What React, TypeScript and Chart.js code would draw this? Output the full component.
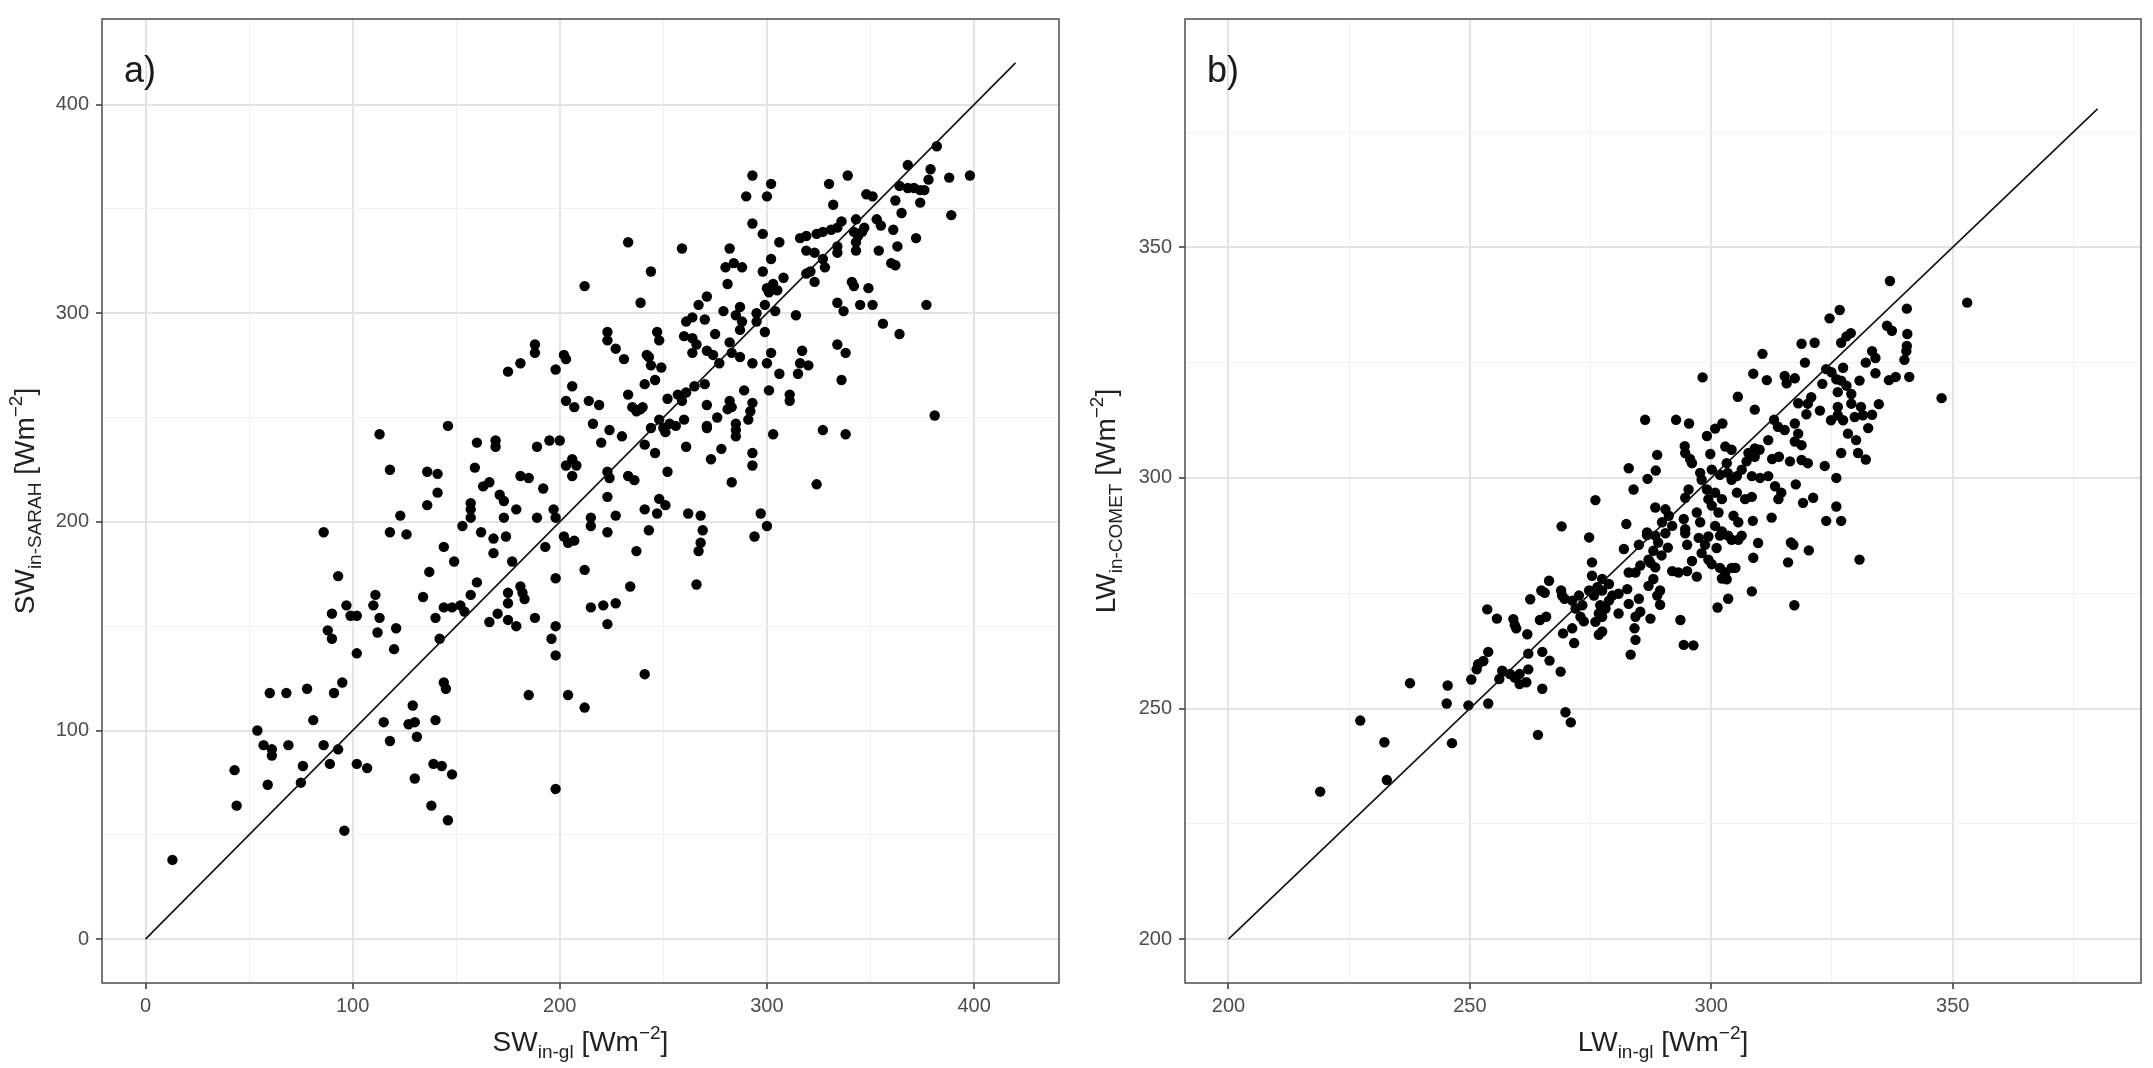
import React, { useEffect, useRef } from 'react';
import { Chart, registerables } from 'chart.js';

Chart.register(...registerables);

const FONT = "'Liberation Sans', Arial, Helvetica, sans-serif";
const PAGE_W = 2153;
const PAGE_H = 1068;

// ---------- Panel a: SW ----------
const SW_GL: number[] = [
  188,188,181,175,198,146,113,160,169,169, 189,195,200,118,136,141,159,163,166,141,
  181,185,192,171,173,179,157,157,157,136, 123,118,126,86,189,197,198,173,153,162,
  168,174,144,193,168,149,177,93,137,160, 198,111,134,157,175,175,181,182,183,97,
  90,99,102,110,113,121,144,148,152,154, 140,166,170,175,179,188,198,88,90,112,
  142,196,198,102,120,95,60,68,78,91, 144,145,185,81,54,115,129,127,130,131,
  140,57,61,61,69,86,93,118,43,76, 89,102,107,139,143,148,130,59,75,44,
  138,146,198,96,13,
  293,302,290,300,233,259,244,212,239,293, 298,306,282,280,284,288,281,298,302,308,
  300,303,305,301,271,267,279,287,285,288, 287,264,261,270,260,264,275,266,264,271,
  274,295,295,299,304,299,282,283,287,277, 293,302,300,314,317,316,320,315,306,316,
  319,324,327,331,334,336,330,339,332,319, 323,327,328,319,321,323,334,334,343,342,
  344,346,347,343,343,348,351,353,355,354, 361,362,365,363,360,362,372,368,364,368,
  371,374,376,374,379,378,388,398,389,377, 341,342,349,345,351,334,337,356,364,334,
  338,336,381,311,311,301,289,282,283,281, 293,292,291,271,276,271,271,285,285,285,
  278,273,261,293,293,303,327,338,283,324, 252,223,223,224,233,236,206,208,203,206,
  220,230,216,224,241,246,244,248,250,253, 251,256,260,252,257,259,261,265,270,233,
  235,239,237,240,206,203,207,214,219,241, 246,242,243,244,249,231,227,223,223,247,
  248,202,203,382,
  248,251,215,215,227,241,247,262,268,297, 300,294,269,268,267,243,223,202,204,207,
  237,212,234,266,215,221,227,223,241,204, 212,
];
const SW_SARAH: number[] = [
  285,281,276,272,273,246,242,238,239,236, 236,239,239,225,224,223,226,217,219,214,
  222,221,216,213,210,206,209,206,202,208, 203,195,194,195,202,206,202,202,198,195,
  192,193,188,188,185,181,181,174,176,171, 173,165,164,165,166,161,169,166,163,160,
  156,155,155,160,154,149,159,159,160,157, 154,152,156,153,150,154,150,148,144,147,
  144,144,136,137,139,123,118,118,120,118, 123,120,117,105,100,104,112,103,104,97,
  105,93,91,88,93,93,91,95,81,83, 84,84,82,84,83,79,77,74,75,64,
  64,57,72,52,38,
  366,362,356,356,334,331,320,313,305,343, 338,334,331,322,324,322,314,320,326,317,
  312,314,311,310,308,304,301,303,299,296, 292,298,296,297,289,288,290,285,281,282,
  280,300,296,304,301,291,286,281,279,276, 276,281,276,299,282,276,275,271,271,336,
  337,338,339,340,341,344,362,366,352,330, 329,326,322,319,320,315,332,329,345,339,
  337,339,341,334,330,357,356,345,342,330, 340,354,348,332,324,323,336,371,361,360,
  360,359,359,353,369,364,365,366,347,304, 315,313,312,304,304,305,301,295,290,285,
  281,268,251,261,258,263,263,258,255,254, 257,253,249,256,250,246,245,247,244,241,
  235,230,236,233,227,242,244,242,219,218, 224,212,224,221,222,220,230,227,227,222,
  238,241,247,244,237,233,245,249,245,247, 243,246,249,259,261,258,262,265,266,261,
  255,254,253,255,265,258,255,258,256,266, 268,280,279,275,274,278,283,291,287,291,
  287,280,278,380,
  211,208,202,198,203,206,204,204,203,204, 198,193,196,190,186,196,195,193,190,191,
  186,177,169,170,159,160,161,151,127,117, 111,
];
const SW_MAJOR = [0, 100, 200, 300, 400];
const SW_MINOR = [50, 150, 250, 350];
const SW_X_RANGE = [-21, 441];
const SW_Y_RANGE = [-21, 441];
const SW_ONE_TO_ONE = [0, 420];

// ---------- Panel b: LW ----------
const LW_GL: number[] = [
  269,326.6,324.5,328,328.9,326.9,318.7,321.4,310.6,319.4,
  332,298.2,308.7,311.5,315.2,315.6,317.3,323.8,324.9,325.9,
  327.3,323,326.9,328,326.2,329,330.7,305.5,309,318,
  320.7,320,319.7,322.5,324.8,326.2,326.2,327.3,329,331,
  329.7,331.4,286.3,292.7,295.4,299.1,300.8,302.3,313,313.8,
  315.2,317.3,318,317.3,318.7,311.8,302.9,304.2,309,307.7,
  294.5,294.6,295.6,288.8,288.5,282.9,299.8,296,297.7,298,
  300.1,301.8,303.2,303.4,304.2,305.3,306.3,307.3,309,310,
  312.6,314,316.3,318.7,320,311.8,313.2,314.5,313.9,308.4,
  310.1,317.5,323.5,325.9,319,321.1,325.9,323.8,326.9,312.5,
  308.6,304.6,305.6,307,308.4,305.3,302.2,299.1,300.8,299.4,
  300.1,301.5,295.3,294.6,297,297.7,288.4,290.5,291.2,289.8,
  291.9,294.3,294.6,303.5,306.3,300.8,301.8,286.7,288.4,282.4,
  276,274.7,283.9,286.8,330.4,332,328.3,330,326.9,
  266.4,264.8,265.5,262.5,268.9,269.1,269.6,253.6,255.6,259,
  259.3,259.6,264.5,265.8,261.9,269.3,253.8,251.7,252.8,251.4,
  250.3,262.1,265,266.5,256.7,258.3,259.3,260.3,262.1,256.1,
  260.3,261.7,268.8,265,237.6,245.4,245.2,249.7,253.8,227.3,
  232.3,246.3,264.1,269.8,232.8,219,
  275.3,281.9,285,286.7,288,289,290.5,291,289.7,287,
  285.3,288.4,294.6,295,297.4,298.7,298,299.4,301.1,302.2,
  304.2,305.6,309.7,308.7,316.5,317,320.2,315.9,330.7,300.1,
  301.8,302.9,304.2,305,302.2,303.2,297,295,293.2,291.9,
  308.4,303.5,301.3,317.2,287.4,288,287,289.4,288.8,289.4,
  282.9,284.3,278.8,277.4,275.3,276.4,277.4,275.7,274.7,272.6,
  271.2,271.9,273.3,272.9,273.6,271.2,271.6,270.9,277,278.1,
  278.8,276.7,277.4,276,277.4,276.7,279.5,280.8,282.6,280.8,
  282.9,285,285.3,284.3,287.4,284.1,284.3,283.3,293.6,294.3,
  296.3,296,299.4,
  337,353,340.5,336.4,337.4,340.6,340.5,340.4,340,341,
  333.3,334,338.2,336.8,347.7,334.7,333.3,334,332.5,
];
const LW_COMET: number[] = [
  289.5,336.4,334.6,330.7,331.4,329.3,329.1,329.3,326.9,325,
  325,321.8,322.6,321.2,322.1,320.5,321.6,323.6,322.9,321.4,
  323.9,320.4,321.1,320,318.6,318.2,321.1,317.6,314.8,316.2,
  317.5,316.1,313.8,314.6,312.5,315.4,313.6,312.5,316.1,315.4,
  313.2,313.6,312.6,312.6,311.8,309.1,310.7,311.8,312.6,311.1,
  310.4,311.8,309.6,307.9,307.1,308.2,306.8,306.1,306.4,305.4,
  306.9,305.4,304.1,305,301.6,302.1,305.2,303.2,301.1,299.6,
  301.8,300.7,303.2,301.1,299.6,300.4,301.8,303.6,304.6,306.1,
  304.1,304.6,303.6,303.9,303.2,300.4,298.2,296.8,295.4,300.4,
  300,298.6,302.6,300,294.6,295.7,293.8,290.7,290.7,291.4,
  290.7,291.8,290.4,295.4,295.9,296.8,295.4,297.5,296.8,295.4,
  294,292.5,297.5,295.7,292.5,290.4,293.6,293.2,291.8,290.4,
  289.6,291.1,288.9,287.5,287.5,289.6,287.5,288.2,287.5,290,
  295.2,287.1,297.5,299.8,305.4,304,309.6,308.2,305.4,
  277.7,275.6,275.1,273.7,275.6,274.5,273.8,271.5,269.5,269.4,
  268.1,267.4,269.2,269.9,266.1,266.3,262.3,259.6,260.3,258.5,
  256.3,261.9,262.3,260.4,258.2,257.5,256.7,257.5,258.5,256.4,
  255.3,255.7,258,254.3,255.5,255,251.1,250.7,251.1,247.4,
  242.7,242.5,244.3,249.2,234.5,232,
  281.7,284.6,285.5,287.6,284.2,286,288,284.9,283.2,282.3,
  281,280.6,288,285.5,287,285.5,283.7,287.3,284.8,288.4,
  286.6,286.6,285.9,282.7,286,285.5,284.3,281.7,282.3,281.3,
  280.5,279.5,280.5,280.5,278.2,278,278.6,279.8,279.5,279.8,
  275.4,273.8,271.9,272.4,281.6,278.1,276.6,275.6,274.5,272.5,
  279.5,279.5,277,278.1,278.8,276.3,275.6,274.5,275.6,274.5,
  273.4,271.7,272.4,269.9,268.9,267.4,264.2,247,272.4,271.7,
  273.4,270.6,269.9,268.8,266.7,266,274.5,274.9,275.9,270.6,
  272.7,273.8,271,269.9,269.5,267.4,264.9,261.7,269.2,263.8,
  263.7,282,282.3,
  342.7,338,336.7,333,331.9,331.2,328.6,327.5,325.6,321.9,
  327.5,326,321.9,321.2,317.3,316,313.7,322.7,310.8,
];
const LW_MAJOR = [200, 250, 300, 350];
const LW_MINOR = [225, 275, 325, 375];
const LW_X_RANGE = [191, 389];
const LW_Y_RANGE = [190.5, 399.5];
const LW_ONE_TO_ONE = [200, 380];

type Seg = { t: string; k: 'n' | 'sub' | 'sup' };

const SW_X_TITLE: Seg[] = [{ t: 'SW', k: 'n' }, { t: 'in-gl', k: 'sub' }, { t: ' [Wm', k: 'n' }, { t: '−2', k: 'sup' }, { t: ']', k: 'n' }];
const SW_Y_TITLE: Seg[] = [{ t: 'SW', k: 'n' }, { t: 'in-SARAH', k: 'sub' }, { t: ' [Wm', k: 'n' }, { t: '−2', k: 'sup' }, { t: ']', k: 'n' }];
const LW_X_TITLE: Seg[] = [{ t: 'LW', k: 'n' }, { t: 'in-gl', k: 'sub' }, { t: ' [Wm', k: 'n' }, { t: '−2', k: 'sup' }, { t: ']', k: 'n' }];
const LW_Y_TITLE: Seg[] = [{ t: 'LW', k: 'n' }, { t: 'in-COMET', k: 'sub' }, { t: ' [Wm', k: 'n' }, { t: '−2', k: 'sup' }, { t: ']', k: 'n' }];

const BIG = 28;
const SMALL = 19;

function drawRich(ctx: CanvasRenderingContext2D, segs: Seg[], cx: number, baseline: number) {
  const widths = segs.map((s) => {
    ctx.font = `${s.k === 'n' ? BIG : SMALL}px ${FONT}`;
    return ctx.measureText(s.t).width;
  });
  const total = widths.reduce((a, b) => a + b, 0);
  let x = cx - total / 2;
  ctx.textAlign = 'left';
  ctx.textBaseline = 'alphabetic';
  segs.forEach((s, i) => {
    ctx.font = `${s.k === 'n' ? BIG : SMALL}px ${FONT}`;
    const dy = s.k === 'sub' ? 7 : s.k === 'sup' ? -12 : 0;
    ctx.fillText(s.t, x, baseline + dy);
    x += widths[i];
  });
}

interface PanelSpec {
  left: number;
  width: number;
  area: { left: number; right: number; top: number; bottom: number };
  xs: number[];
  ys: number[];
  major: number[];
  minor: number[];
  xRange: number[];
  yRange: number[];
  line: number[];
  tag: string;
  xTitle: Seg[];
  yTitle: Seg[];
  yTitleBaseline: number;
}

const PANEL_A: PanelSpec = {
  left: 0, width: 1080,
  area: { left: 102, right: 1059, top: 12, bottom: 983 },
  xs: SW_GL, ys: SW_SARAH, major: SW_MAJOR, minor: SW_MINOR,
  xRange: SW_X_RANGE, yRange: SW_Y_RANGE, line: SW_ONE_TO_ONE,
  tag: 'a)', xTitle: SW_X_TITLE, yTitle: SW_Y_TITLE, yTitleBaseline: 34,
};
const PANEL_B: PanelSpec = {
  left: 1080, width: 1073,
  area: { left: 105, right: 1061, top: 12, bottom: 983 },
  xs: LW_GL, ys: LW_COMET, major: LW_MAJOR, minor: LW_MINOR,
  xRange: LW_X_RANGE, yRange: LW_Y_RANGE, line: LW_ONE_TO_ONE,
  tag: 'b)', xTitle: LW_X_TITLE, yTitle: LW_Y_TITLE, yTitleBaseline: 35,
};

function buildConfig(spec: PanelSpec): any {
  const { major, minor } = spec;
  const isMajor = (c: any) => !!c && !!c.tick && major.includes(c.tick.value);
  const grid = {
    display: true,
    drawOnChartArea: true,
    drawTicks: true,
    color: (c: any) => (isMajor(c) ? '#e4e4e4' : '#f0f0f0'),
    lineWidth: (c: any) => (isMajor(c) ? 2 : 1),
    tickColor: (c: any) => (isMajor(c) ? '#333333' : 'rgba(0,0,0,0)'),
    tickWidth: 1.5,
    tickLength: 6,
  };
  const setTicks = (scale: any) => {
    const lo = scale.min, hi = scale.max;
    scale.ticks = [...major, ...minor]
      .filter((v) => v >= lo && v <= hi)
      .sort((a, b) => a - b)
      .map((v) => ({ value: v }));
  };
  const tickFont = { family: FONT, size: 20 };
  const label = (v: any) => (major.includes(Number(v)) ? String(v) : '');

  const decor = {
    id: 'decor',
    afterDraw(chart: any) {
      const ctx: CanvasRenderingContext2D = chart.ctx;
      const a = chart.chartArea;
      ctx.save();
      ctx.strokeStyle = '#4d4d4d';
      ctx.lineWidth = 1.5;
      ctx.strokeRect(a.left, a.top, a.right - a.left, a.bottom - a.top);
      ctx.fillStyle = '#1a1a1a';
      ctx.font = `36px ${FONT}`;
      ctx.textAlign = 'left';
      ctx.textBaseline = 'alphabetic';
      ctx.fillText(spec.tag, a.left + 22, a.top + 63);
      ctx.fillStyle = '#222222';
      drawRich(ctx, spec.xTitle, (a.left + a.right) / 2, 1051);
      ctx.translate(spec.yTitleBaseline, (a.top + a.bottom) / 2);
      ctx.rotate(-Math.PI / 2);
      drawRich(ctx, spec.yTitle, 0, 0);
      ctx.restore();
    },
  };

  return {
    type: 'scatter',
    data: {
      datasets: [
        {
          label: '1:1',
          data: [
            { x: spec.line[0], y: spec.line[0] },
            { x: spec.line[1], y: spec.line[1] },
          ],
          showLine: true,
          borderColor: '#111111',
          borderWidth: 1.6,
          pointRadius: 0,
          pointHoverRadius: 0,
          order: 0,
        },
        {
          label: 'obs',
          data: spec.xs.map((x, i) => ({ x, y: spec.ys[i] })),
          showLine: false,
          pointRadius: 5.2,
          pointHoverRadius: 5.2,
          backgroundColor: '#000000',
          borderWidth: 0,
          order: 1,
        },
      ],
    },
    options: {
      animation: false,
      responsive: false,
      maintainAspectRatio: false,
      devicePixelRatio: 1,
      events: [],
      layout: {
        autoPadding: false,
        padding: { left: 0, top: spec.area.top, right: spec.width - spec.area.right, bottom: 0 },
      },
      plugins: { legend: { display: false }, tooltip: { enabled: false }, title: { display: false } },
      scales: {
        x: {
          type: 'linear',
          position: 'bottom',
          min: spec.xRange[0],
          max: spec.xRange[1],
          afterBuildTicks: setTicks,
          afterFit: (s: any) => { s.height = PAGE_H - spec.area.bottom; },
          ticks: { autoSkip: false, maxRotation: 0, minRotation: 0, padding: 5, color: '#4d4d4d', font: tickFont, callback: label },
          grid,
          border: { display: false },
          title: { display: false },
        },
        y: {
          type: 'linear',
          position: 'left',
          min: spec.yRange[0],
          max: spec.yRange[1],
          afterBuildTicks: setTicks,
          afterFit: (s: any) => { s.width = spec.area.left; },
          ticks: { autoSkip: false, padding: 7, color: '#4d4d4d', font: tickFont, callback: label },
          grid,
          border: { display: false },
          title: { display: false },
        },
      },
    },
    plugins: [decor],
  };
}

function PanelChart({ spec }: { spec: PanelSpec }) {
  const ref = useRef<HTMLCanvasElement>(null);
  useEffect(() => {
    const canvas = ref.current;
    if (!canvas) return;
    const chart = new Chart(canvas, buildConfig(spec));
    return () => chart.destroy();
  }, [spec]);
  return (
    <canvas
      ref={ref}
      width={spec.width}
      height={PAGE_H}
      style={{ position: 'absolute', left: spec.left, top: 0, width: spec.width, height: PAGE_H, display: 'block' }}
    />
  );
}

export default function App() {
  return (
    <div style={{ position: 'fixed', left: 0, top: 0, width: PAGE_W, height: PAGE_H, background: '#ffffff', overflow: 'hidden' }}>
      <PanelChart spec={PANEL_A} />
      <PanelChart spec={PANEL_B} />
    </div>
  );
}
